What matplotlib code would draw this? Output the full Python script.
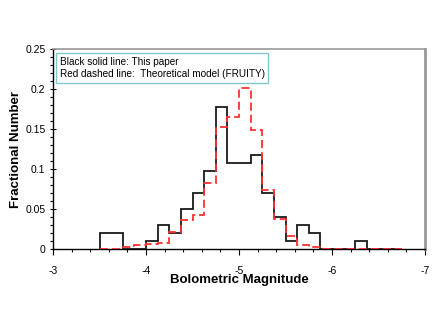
import numpy as np
import matplotlib
matplotlib.use("Agg")
from matplotlib import pyplot as plt
from matplotlib.ticker import MultipleLocator, FixedLocator

plt.rcParams['font.family'] = ['Liberation Sans', 'DejaVu Sans']

# bin edges (bolometric magnitude), 0.125 mag bins from -3.5 to -6.75
edges = [-3.5 - 0.125 * i for i in range(27)]

# fractional number per bin, this paper (black solid)
paper = [0.02, 0.02, 0.0, 0.0, 0.01, 0.03, 0.02, 0.05, 0.07, 0.098,
         0.177, 0.108, 0.108, 0.118, 0.07, 0.04, 0.01, 0.03, 0.02,
         0.0, 0.0, 0.0, 0.01, 0.0, 0.0, 0.0]

# theoretical model FRUITY (red dashed)
fruity = [0.0, 0.0, 0.0025, 0.005, 0.0065, 0.0075, 0.021, 0.036, 0.043, 0.083,
          0.1525, 0.1645, 0.201, 0.149, 0.074, 0.0375, 0.016, 0.005, 0.002,
          0.0, 0.0, 0.0, 0.0, 0.0, 0.0, 0.0]

xticks = [-3, -4, -5, -6, -7]
yticks = [0, 0.05, 0.1, 0.15, 0.2, 0.25]
ytick_labels = ['0', '0.05', '0.1', '0.15', '0.2', '0.25']

fig = plt.figure(figsize=(4.36, 3.27), dpi=100)
ax = fig.add_axes([0.1216, 0.2385, 0.8534, 0.6115])

ax.stairs(paper, edges, color='#1a1a1a', lw=1.3, zorder=3)
ax.stairs(fruity, edges, color='#ff3030', lw=1.3, linestyle=(0, (4.5, 2.2)), zorder=4)

ax.set_xlim(-3, -7)
ax.set_ylim(0, 0.25)
ax.xaxis.set_major_locator(FixedLocator(xticks))
ax.xaxis.set_minor_locator(MultipleLocator(0.2))
ax.set_xticklabels([str(t) for t in xticks])
ax.yaxis.set_major_locator(FixedLocator(yticks))
ax.yaxis.set_minor_locator(MultipleLocator(0.01))
ax.set_yticklabels(ytick_labels)

ax.tick_params(axis='x', which='major', direction='out', length=4, width=0.8, pad=8, labelsize=7.5)
ax.tick_params(axis='x', which='minor', direction='out', length=2.5, width=0.8)
ax.tick_params(axis='y', which='major', direction='inout', length=5, width=0.8, pad=3, labelsize=7.5)
ax.tick_params(axis='y', which='minor', direction='out', length=2, width=0.8)

for s in ['left', 'bottom']:
    ax.spines[s].set_color('black')
    ax.spines[s].set_linewidth(1.0)
ax.spines['top'].set_color('#999999')
ax.spines['top'].set_linewidth(1.2)
ax.spines['right'].set_color('#999999')
ax.spines['right'].set_linewidth(2.0)

ax.set_xlabel('Bolometric Magnitude', fontsize=9.5, fontweight='bold')
ax.set_ylabel('Fractional Number', fontsize=9.5, fontweight='bold')
ax.xaxis.set_label_coords(0.5, -0.127)
ax.yaxis.set_label_coords(-0.083, 0.5)

ax.text(0.018, 0.905, 'Black solid line: This paper\nRed dashed line:  Theoretical model (FRUITY)',
        transform=ax.transAxes, fontsize=7.2, va='center', ha='left', linespacing=1.3,
        bbox=dict(boxstyle='square,pad=0.35', fc='white', ec='#7ec8cc', lw=1.0), zorder=5)

plt.savefig('out.png', dpi=100)
